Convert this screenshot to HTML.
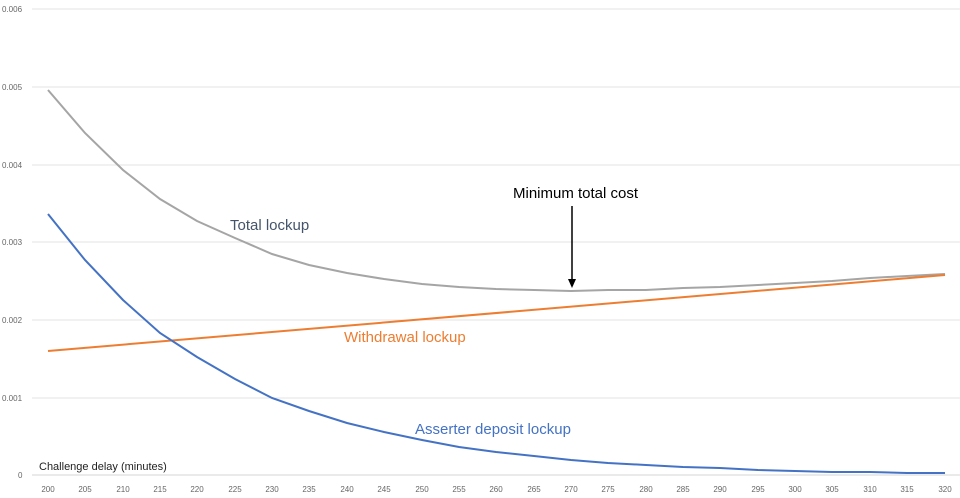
<!DOCTYPE html>
<html><head><style>body{margin:0;background:#fff}svg{display:block}</style></head><body>
<svg width="960" height="498" xmlns="http://www.w3.org/2000/svg" font-family="Liberation Sans, sans-serif">
<g stroke="#e3e3e3" stroke-width="1">
<line x1="32" x2="960" y1="9" y2="9"/><line x1="32" x2="960" y1="87" y2="87"/><line x1="32" x2="960" y1="165" y2="165"/><line x1="32" x2="960" y1="242" y2="242"/><line x1="32" x2="960" y1="320" y2="320"/><line x1="32" x2="960" y1="398" y2="398"/><line x1="32" x2="960" y1="475" y2="475" stroke="#d6d6d6"/>
</g>
<g font-size="8" fill="#666" text-anchor="start">
<text x="2" y="12">0.006</text><text x="2" y="90">0.005</text><text x="2" y="168">0.004</text><text x="2" y="245">0.003</text><text x="2" y="323">0.002</text><text x="2" y="401">0.001</text><text x="18" y="478">0</text>
</g>
<g font-size="8" fill="#666" text-anchor="middle">
<text x="48" y="492">200</text><text x="85" y="492">205</text><text x="123" y="492">210</text><text x="160" y="492">215</text><text x="197" y="492">220</text><text x="235" y="492">225</text><text x="272" y="492">230</text><text x="309" y="492">235</text><text x="347" y="492">240</text><text x="384" y="492">245</text><text x="422" y="492">250</text><text x="459" y="492">255</text><text x="496" y="492">260</text><text x="534" y="492">265</text><text x="571" y="492">270</text><text x="608" y="492">275</text><text x="646" y="492">280</text><text x="683" y="492">285</text><text x="720" y="492">290</text><text x="758" y="492">295</text><text x="795" y="492">300</text><text x="832" y="492">305</text><text x="870" y="492">310</text><text x="907" y="492">315</text><text x="945" y="492">320</text>
</g>
<text x="39" y="470" font-size="11" fill="#222">Challenge delay (minutes)</text>
<polyline fill="none" stroke="#a5a5a5" stroke-width="2" points="48,90 85,133 123,170 160,199 197,221 235,238 272,254 309,265 347,273 384,279 422,284 459,287 496,289 534,290 571,291 608,290 646,290 683,288 720,287 758,285 795,283 832,281 870,278 907,276 945,274"/>
<polyline fill="none" stroke="#ed7d31" stroke-width="2" points="48,351 945,275"/>
<polyline fill="none" stroke="#4472c4" stroke-width="2" points="48,214 85,260 123,300 160,333 197,357 235,379 272,398 309,411 347,423 384,432 422,440 459,447 496,452 534,456 571,460 608,463 646,465 683,467 720,468 758,470 795,471 832,472 870,472 907,473 945,473"/>
<text x="230" y="230" font-size="15" fill="#44546a">Total lockup</text>
<text x="513" y="198" font-size="15" fill="#000">Minimum total cost</text>
<line x1="572" y1="206" x2="572" y2="280" stroke="#000" stroke-width="1.5"/>
<polygon points="568,279 576,279 572,288" fill="#000"/>
<text x="344" y="342" font-size="15" fill="#ed7d31">Withdrawal lockup</text>
<text x="415" y="434" font-size="15" fill="#4472c4">Asserter deposit lockup</text>
</svg>
</body></html>
